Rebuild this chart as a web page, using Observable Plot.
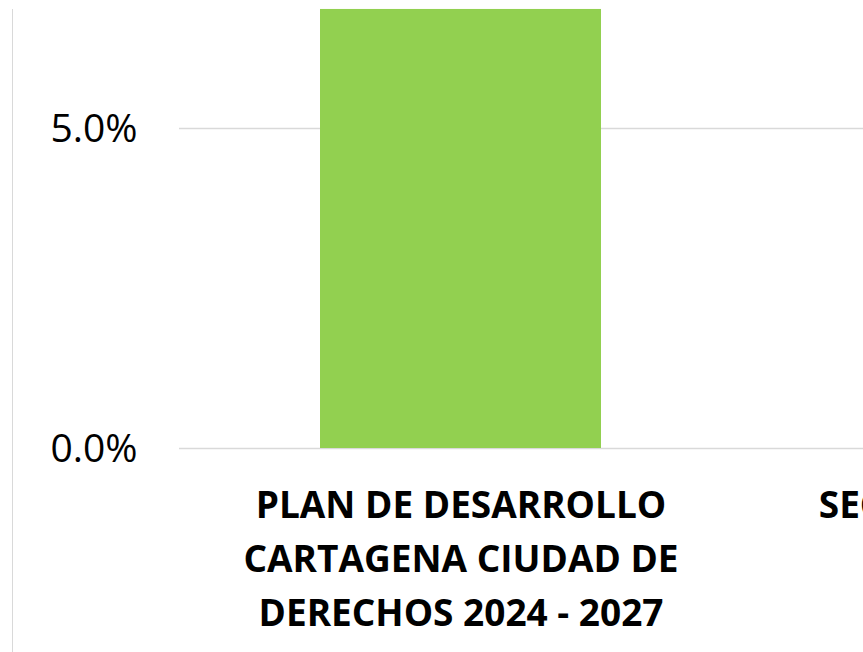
<!DOCTYPE html>
<html><head><meta charset="utf-8">
<script src="https://cdn.jsdelivr.net/npm/d3@7"></script>
<script src="https://cdn.jsdelivr.net/npm/@observablehq/plot@0.6"></script>
<style>
html,body{margin:0;padding:0;background:#fff;overflow:hidden}
#chart{position:relative;width:863px;height:652px;overflow:hidden;background:#fff}
#chart::before{content:"";position:absolute;left:12px;top:9px;bottom:0;width:1px;background:#d9d9d9;z-index:1}
</style></head><body><div id="chart"></div>
<script>
const categories = ["PLAN DE DESARROLLO CARTAGENA CIUDAD DE DERECHOS 2024 - 2027", "SECRETARÍA DE SALUD"];
const labelLines = [["PLAN DE DESARROLLO", "CARTAGENA CIUDAD DE", "DERECHOS 2024 - 2027"], ["SECRETARÍA DE SALUD"]];
const values = [6.86, 6.86];
const yTicks = [0, 5];

const data = categories.map((c, i) => ({category: c, value: values[i]}));

const chart = Plot.plot({
  width: 863, height: 652,
  marginLeft: 179, marginRight: 0, marginTop: 0, marginBottom: 204,
  style: {fontFamily: "'Open Sans', sans-serif", background: "transparent", overflow: "hidden"},
  x: {domain: categories, range: [179, 1303], paddingInner: 0.5, paddingOuter: 0.25, label: null},
  y: {domain: [0, 5], range: [448, 128], label: null},
  marks: [
    Plot.gridY(yTicks, {stroke: "#d9d9d9", strokeOpacity: 1, strokeWidth: 1.3}),
    Plot.barY(data, {x: "category", y: "value", fill: "#92D050"}),
    Plot.axisY(yTicks, {tickSize: 0, tickPadding: 42, dy: 1, tickFormat: d => d.toFixed(1) + "%", fontSize: 39, fill: "#000", label: null}),
    Plot.axisX({tickSize: 0, tickPadding: 31, tickFormat: c => labelLines[categories.indexOf(c)].join("\n"), fontSize: 37, fontWeight: "bold", lineHeight: 1.46, fill: "#000", label: null})
  ]
});
document.getElementById("chart").appendChild(chart);
</script>
</body></html>
